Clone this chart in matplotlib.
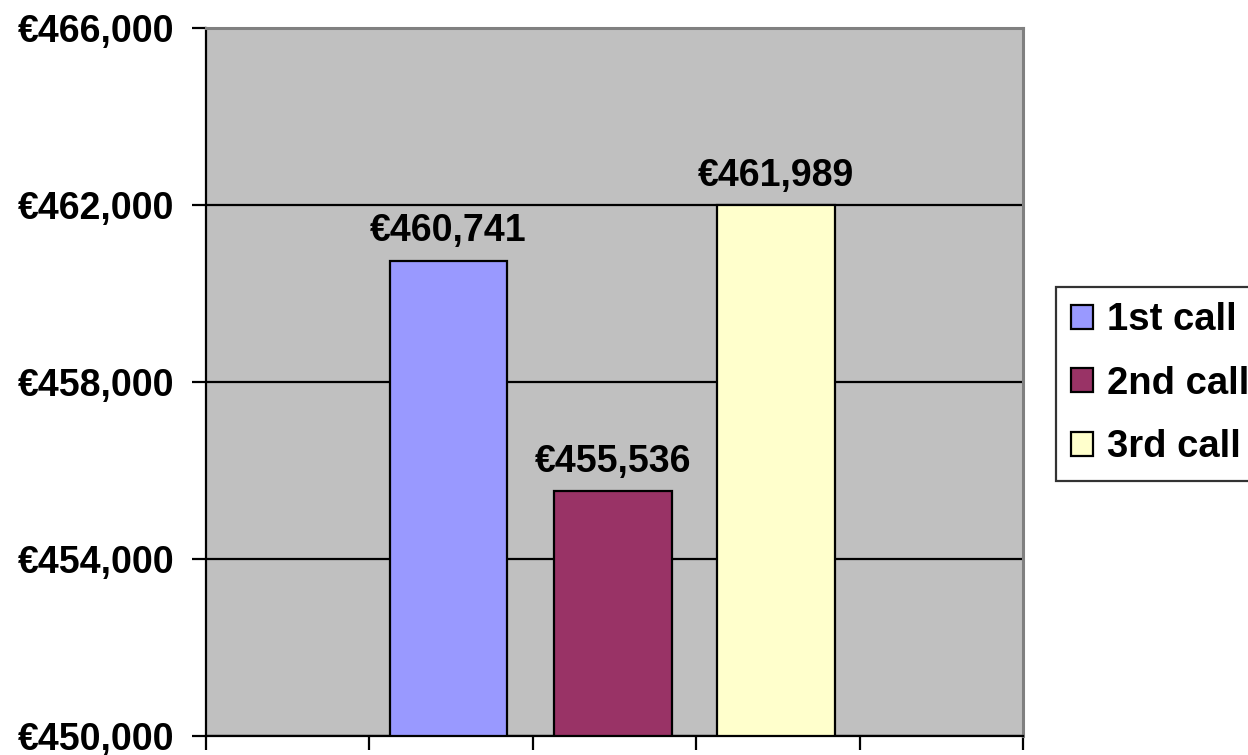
import matplotlib
matplotlib.use("Agg")
import matplotlib.pyplot as plt
from matplotlib.patches import Patch

series = ["1st call", "2nd call", "3rd call"]
values = [460741, 455536, 461989]
colors = ["#9999FF", "#993366", "#FFFFCC"]
yticks = [450000, 454000, 458000, 462000, 466000]
ytick_labels = ["€450,000", "€454,000", "€458,000", "€462,000", "€466,000"]

plt.rcParams['font.family'] = ['Liberation Sans', 'DejaVu Sans']
plt.rcParams['font.weight'] = 'bold'

fig = plt.figure(figsize=(12.48, 7.55), dpi=100)
ax = fig.add_axes([206/1248, 1-736/755, (1023-206)/1248, (736-28)/755])
ax.set_facecolor("#C0C0C0")

positions = [1.485, 2.49, 3.49]
for p, v, c in zip(positions, values, colors):
    ax.bar(p, v - 450000, bottom=450000, width=0.72, color=c, edgecolor="black",
           linewidth=1.6, zorder=3)
    ax.text(p, v + 260, f"€{v:,}", ha="center", va="bottom", fontsize=27,
            fontweight="bold", zorder=4)

ax.set_xlim(0, 5)
ax.set_ylim(450000, 466000)
ax.set_xticks(range(6))
ax.set_xticklabels([])
ax.set_yticks(yticks)
ax.set_yticklabels(ytick_labels, fontsize=27, fontweight="bold")
ax.tick_params(axis="both", direction="out", length=10, width=1.6, color="black")
ax.tick_params(axis="y", pad=13)
ax.yaxis.grid(True, color="black", linewidth=1.6, zorder=1)
ax.set_axisbelow(True)

for s in ["top", "right"]:
    ax.spines[s].set_color("#808080")
    ax.spines[s].set_linewidth(2.2)
for s in ["left", "bottom"]:
    ax.spines[s].set_color("black")
    ax.spines[s].set_linewidth(1.6)

handles = [Patch(facecolor=c, edgecolor="black", linewidth=1.6, label=s)
           for s, c in zip(series, colors)]
leg = fig.legend(handles=handles, loc="upper left",
                 bbox_to_anchor=(1056/1248, 1-287/755),
                 frameon=True, fancybox=False, edgecolor="black",
                 prop={"size": 27.5, "weight": "bold"},
                 handlelength=0.58, handleheight=0.58, handletextpad=0.35,
                 labelspacing=0.72, borderpad=0.4, borderaxespad=0)
leg.get_frame().set_linewidth(1.6)

fig.savefig("out.png", dpi=100, facecolor="white")
